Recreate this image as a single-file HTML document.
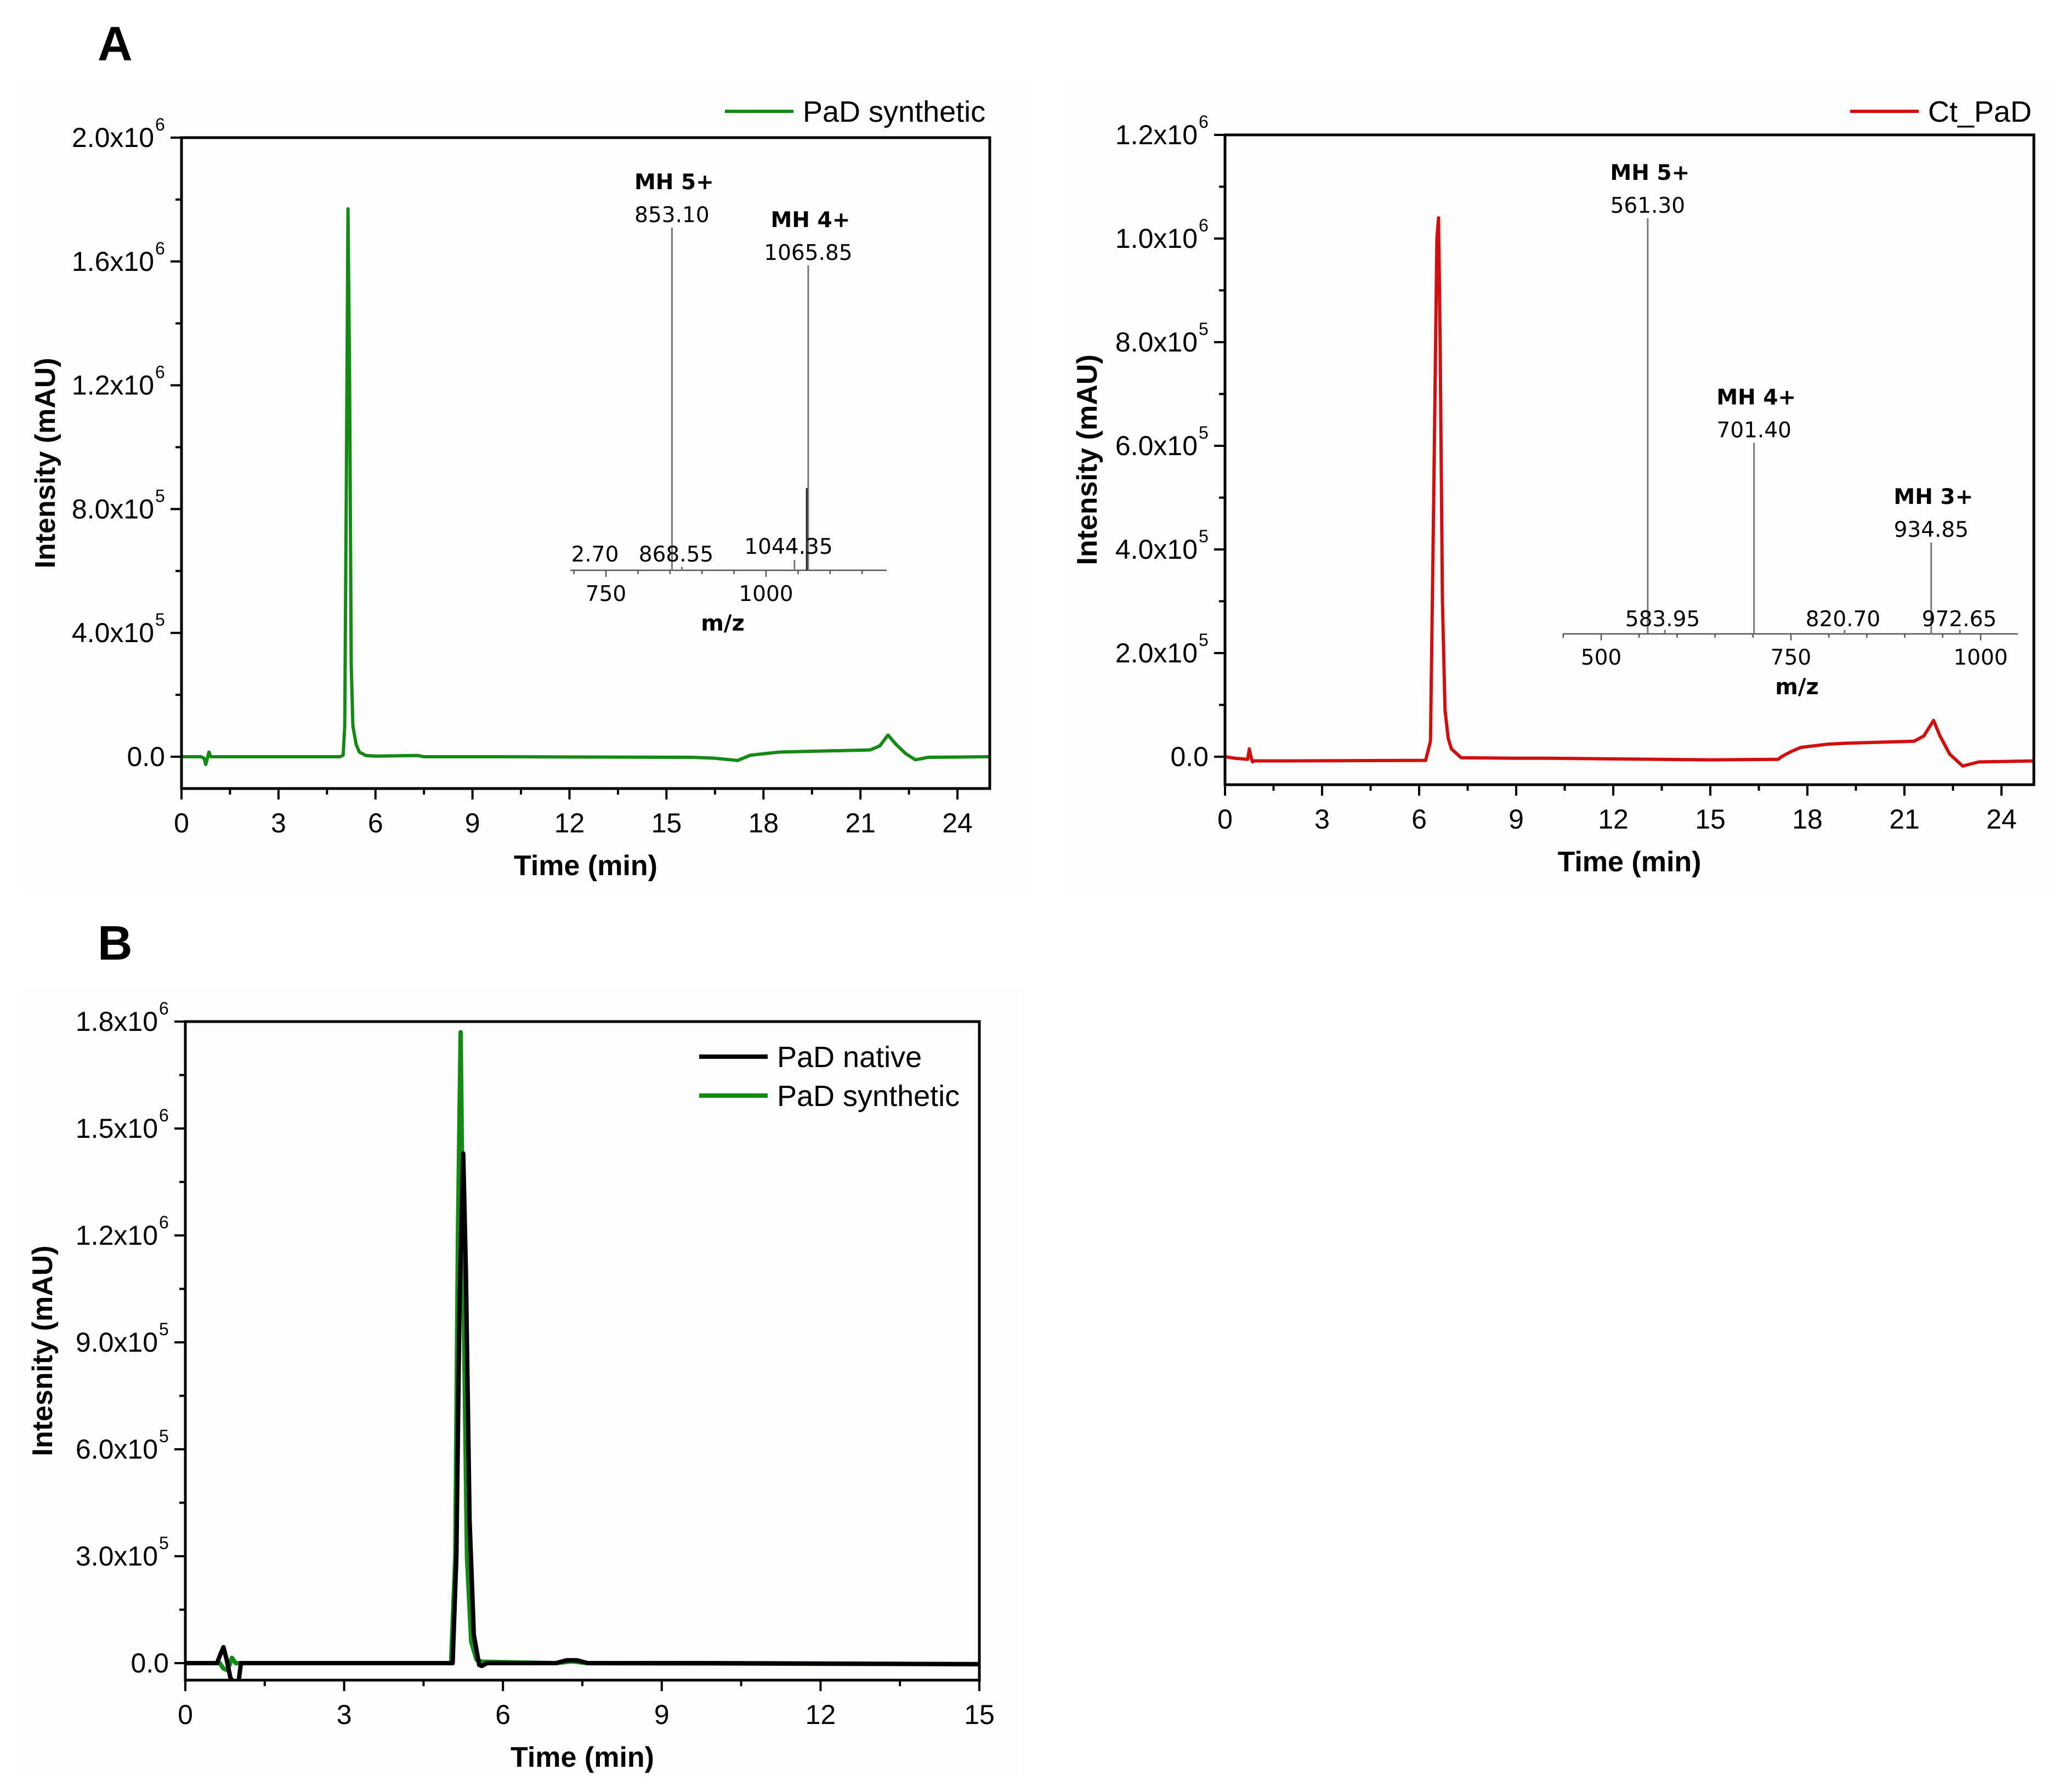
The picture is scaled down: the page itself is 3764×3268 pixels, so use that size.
<!DOCTYPE html>
<html><head><meta charset="utf-8"><style>
html,body{margin:0;padding:0;background:#fff;}
svg{display:block;}
</style></head><body>
<svg id="fig" xmlns="http://www.w3.org/2000/svg" width="3764" height="3268" viewBox="0 0 3764 3268" font-family="Liberation Sans, Arial, sans-serif">
<rect x="0" y="0" width="3764" height="3268" fill="#ffffff"/>
<rect x="40" y="150" width="1840" height="1480" fill="#fdfdfd"/>
<rect x="1950" y="150" width="1800" height="1480" fill="#fdfdfd"/>
<rect x="40" y="1800" width="1830" height="1440" fill="#fdfdfd"/>
<text x="178" y="110" font-size="88" font-weight="bold" fill="#000">A</text>
<text x="178" y="1750" font-size="88" font-weight="bold" fill="#000">B</text>
<g id="layer"></g>
</svg>
<script>
// ---- data: panel A left (PaD synthetic) ----
const synA_t = [0,0.6,0.7,0.75,0.8,0.85,0.9,1.0,4.9,5.0,5.05,5.1,5.15,5.2,5.25,5.3,5.4,5.5,5.7,6.0,7.3,7.4,7.5,9.8,15.8,16.5,17.2,17.6,18.5,21.3,21.6,21.85,22.1,22.4,22.7,23.1,25];
const synA_y = [0,0,-5e3,-2.5e4,-5e3,1.5e4,0,0,0,5e3,1e5,9e5,1.77e6,1.2e6,3e5,1e5,4e4,1.5e4,4e3,2e3,4e3,2e3,0,0,-2e3,-5e3,-1.2e4,5e3,1.5e4,2.2e4,3.5e4,7e4,4e4,1e4,-1e4,-2e3,0];
// ---- data: panel A right (Ct_PaD) ----
const ctA_t = [0,0.3,0.7,0.75,0.8,0.85,0.9,2,6.2,6.35,6.45,6.55,6.6,6.65,6.72,6.8,6.9,7.0,7.3,9,10,15,17.1,17.2,17.5,17.8,18.6,19.2,21.3,21.6,21.9,22.1,22.4,22.8,23.3,25];
const ctA_y = [0,-3e3,-5e3,1.5e4,0,-1e4,-8e3,-8e3,-7e3,3e4,5e5,1e6,1.04e6,8e5,3e5,9e4,3.5e4,1.5e4,-2e3,-3e3,-3e3,-6e3,-5e3,0,1e4,1.8e4,2.4e4,2.6e4,3e4,4e4,7e4,4e4,5e3,-1.8e4,-1e4,-8e3];
// ---- data: panel B ----
const natB_t = [0,0.6,0.65,0.72,0.78,0.85,0.92,1.0,1.05,1.1,2,5.05,5.12,5.18,5.25,5.3,5.37,5.45,5.55,5.6,5.7,7.0,7.2,7.4,7.6,10,15];
const natB_y = [0,0,2e4,4.5e4,1e4,-4e4,-6e4,-6e4,0,0,0,0,3e5,1e6,1.43e6,1.1e6,4e5,8e4,-5e3,-8e3,0,0,8e3,8e3,0,0,-3e3];
const synB_t = [0,0.65,0.72,0.8,0.88,0.95,1.05,2,5.02,5.1,5.15,5.2,5.25,5.32,5.4,5.5,5.6,7.0,7.3,7.6,15];
const synB_y = [0,0,-1.5e4,-2e4,1.5e4,0,0,0,0,3e5,1.2e6,1.77e6,1.1e6,3e5,6e4,1e4,4e3,0,5e3,0,-3e3];
// ---- inset mass spectra ----
const msA_mz = [853.10,1065.85,1063.5,1044.35,868.55];
const msA_int = [100,89,24,3,1];
const msA_labels = ["853.10","1065.85"];
const msA_ions = ["MH 5+","MH 4+"];
const msB_mz = [561.30,701.40,934.85,583.95,820.70,972.65];
const msB_int = [100,46,22,1,1,1];
const msB_labels = ["561.30","701.40","934.85"];
const msB_ions = ["MH 5+","MH 4+","MH 3+"];
// ---- ticks ----
const xTicksA = [0,3,6,9,12,15,18,21,24];
const xTicksB = [0,3,6,9,12,15];
const yTicksAL = [0,4e5,8e5,1.2e6,1.6e6,2.0e6];
const yLabAL = [["0.0",""],["4.0x10","5"],["8.0x10","5"],["1.2x10","6"],["1.6x10","6"],["2.0x10","6"]];
const yTicksAR = [0,2e5,4e5,6e5,8e5,1e6,1.2e6];
const yLabAR = [["0.0",""],["2.0x10","5"],["4.0x10","5"],["6.0x10","5"],["8.0x10","5"],["1.0x10","6"],["1.2x10","6"]];
const yTicksB = [0,3e5,6e5,9e5,1.2e6,1.5e6,1.8e6];
const yLabB = [["0.0",""],["3.0x10","5"],["6.0x10","5"],["9.0x10","5"],["1.2x10","6"],["1.5x10","6"],["1.8x10","6"]];

const NS="http://www.w3.org/2000/svg";
const layer=document.getElementById('layer');
function mk(tag,attrs,parent){const e=document.createElementNS(NS,tag);for(const k in attrs)e.setAttribute(k,attrs[k]);(parent||layer).appendChild(e);return e;}

function panel(o){
  const g=mk('g',{});
  
  
  const sx=v=>o.L+(v-o.x0)/(o.x1-o.x0)*(o.R-o.L);
  const sy=v=>o.Y0-(v/o.ymax)*(o.Y0-o.T);
  const cp='cp-'+o.name;
  const cl=mk('clipPath',{id:cp},g);mk('rect',{x:o.L,y:o.T,width:o.R-o.L,height:o.B-o.T},cl);
  o.series.forEach(s=>{
    const pts=s.t.map((t,i)=>sx(t).toFixed(1)+','+sy(s.y[i]).toFixed(1)).join(' ');
    const p=mk('polyline',{points:pts,fill:'none',stroke:s.color,'stroke-width':s.w,'stroke-linejoin':'round','clip-path':'url(#'+cp+')'},g);
    
    
  });
  const fr=mk('rect',{x:o.L,y:o.T,width:o.R-o.L,height:o.B-o.T,fill:'none',stroke:'#000','stroke-width':5},g);
  
  
  const xa=mk('g',{},g);
  
  
  const step=o.xt[1]-o.xt[0];
  for(let v=o.x0;v<=o.x1+1e-6;v+=step/2){
    const major=Math.abs((v/step)-Math.round(v/step))<1e-6;
    mk('line',{x1:sx(v),x2:sx(v),y1:o.B,y2:o.B+(major?20:11),stroke:'#000','stroke-width':4},xa);
  }
  o.xt.forEach(v=>{
    const t=mk('text',{x:sx(v),y:o.B+80,'font-size':50,'text-anchor':'middle',fill:'#000'},xa);
    t.textContent=v;
  });
  const ya=mk('g',{},g);
  
  
  const ys=o.yt[1]-o.yt[0];
  for(let v=0;v<=o.ymax+1;v+=ys/2){
    const major=Math.abs(v/ys-Math.round(v/ys))<1e-6;
    mk('line',{x1:o.L,x2:o.L-(major?20:11),y1:sy(v),y2:sy(v),stroke:'#000','stroke-width':4},ya);
  }
  o.yt.forEach((v,i)=>{
    const t=mk('text',{x:o.L-(o.yl[i][1]?50:30),y:sy(v)+17,'font-size':50,'text-anchor':'end',fill:'#000'},ya);
    t.textContent=o.yl[i][0];
    if(o.yl[i][1]){const s=mk('text',{x:o.L-48,y:sy(v)-13,'font-size':32,'text-anchor':'start',fill:'#000'},ya);s.textContent=o.yl[i][1];}
  });
  const xt=mk('text',{x:(o.L+o.R)/2,y:o.B+158,'font-size':52,'font-weight':'bold','text-anchor':'middle',fill:'#000'},g);
  
  
  xt.textContent='Time (min)';
  const yt=mk('text',{x:0,y:0,'font-size':52,'font-weight':'bold','text-anchor':'middle',fill:'#000',transform:'translate('+o.ytx+','+((o.T+o.B)/2-o.ytoff)+') rotate(-90)'},g);
  
  
  yt.textContent=o.ytitle;
  o.legend.forEach((lg,i)=>{
    const lgG=mk('g',{},g);
    
    
    mk('line',{x1:lg.x,x2:lg.x+125,y1:lg.y,y2:lg.y,stroke:lg.color,'stroke-width':lg.w},lgG);
    const t=mk('text',{x:lg.x+142,y:lg.y+19,'font-size':54,fill:'#000'},lgG);t.textContent=lg.text;
  });
  return {sx,sy,g};
}

function inset(o){
  const g=mk('g',{'font-family':'DejaVu Sans, Verdana, sans-serif'});
  
  
  const mx=v=>o.X750+(v-o.m0)/250*o.px250;
  const hy=v=>o.Y-v/100*o.h100;
  mk('line',{x1:o.xa,x2:o.xb,y1:o.Y,y2:o.Y,stroke:'#555','stroke-width':2.5},g);
  for(let m=Math.ceil(o.mmin/50)*50;m<=o.mmax;m+=50){
    mk('line',{x1:mx(m),x2:mx(m),y1:o.Y,y2:o.Y+(m%250===0?12:7),stroke:'#555','stroke-width':2.5},g);
  }
  o.ticks.forEach(m=>{const t=mk('text',{x:mx(m),y:o.Y+56,'font-size':39,'text-anchor':'middle',fill:'#000'},g);t.textContent=m;});
  o.mz.forEach((m,i)=>{
    const l=mk('line',{x1:mx(m),x2:mx(m),y1:o.Y,y2:hy(o.inten[i]),stroke:i===2&&o.dark?'#222':'#777','stroke-width':3},g);
    
    
  });
  o.labels.forEach((lab,i)=>{
    const x=mx(o.mz[i]);const y=hy(o.inten[i]);
    const a=mk('text',{x:x,y:y-10,'font-size':39,'text-anchor':'middle',fill:'#000'},g);a.textContent=lab;
    const b=mk('text',{x:x+4,y:y-70,'font-size':39,'font-weight':'bold','text-anchor':'middle',fill:'#000'},g);b.textContent=o.ions[i];
  });
  o.small.forEach(s=>{const t=mk('text',{x:s[1],y:o.Y-s[2],'font-size':39,'text-anchor':'middle',fill:'#000'},g);t.textContent=s[0];});
  const mzt=mk('text',{x:o.mzx,y:o.Y+110,'font-size':40,'font-weight':'bold','text-anchor':'middle',fill:'#000'},g);mzt.textContent='m/z';
}

panel({name:'chromatogram-pad-synthetic',L:331,R:1805,T:251,B:1438,Y0:1380,x0:0,x1:25,ymax:2.0e6,xt:xTicksA,yt:yTicksAL,yl:yLabAL,ytitle:'Intensity (mAU)',ytx:100,ytoff:0,
  series:[{name:'pad-synthetic-trace',t:synA_t,y:synA_y,color:'#138a13',w:6}],
  legend:[{x:1322,y:203,color:'#138a13',w:6,text:'PaD synthetic'}]});
panel({name:'chromatogram-ct-pad',L:2234,R:3709,T:246,B:1431,Y0:1380,x0:0,x1:25,ymax:1.2e6,xt:xTicksA,yt:yTicksAR,yl:yLabAR,ytitle:'Intensity (mAU)',ytx:2000,ytoff:0,
  series:[{name:'ct-pad-trace',t:ctA_t,y:ctA_y,color:'#d10f0f',w:6}],
  legend:[{x:3374,y:203,color:'#d10f0f',w:6,text:'Ct_PaD'}]});
panel({name:'chromatogram-comparison',L:338,R:1786,T:1863,B:3064,Y0:3033,x0:0,x1:15,ymax:1.8e6,xt:xTicksB,yt:yTicksB,yl:yLabB,ytitle:'Intesnity (mAU)',ytx:95,ytoff:0,
  series:[{name:'pad-synthetic-trace-b',t:synB_t,y:synB_y,color:'#138a13',w:8},{name:'pad-native-trace',t:natB_t,y:natB_y,color:'#000',w:8}],
  legend:[{x:1275,y:1927,color:'#000',w:8,text:'PaD native'},{x:1275,y:1998,color:'#138a13',w:8,text:'PaD synthetic'}]});

inset({name:'ms-inset-pad-synthetic',Y:1040,xa:1040,xb:1617,X750:1105,m0:750,px250:292,h100:625,mmin:700,mmax:1185,ticks:[750,1000],
  mz:msA_mz,inten:msA_int,labels:msA_labels,ions:msA_ions,dark:true,
  small:[['2.70',1085,16],['868.55',1233,16],['1044.35',1438,30]],mzx:1318});
inset({name:'ms-inset-ct-pad',Y:1156,xa:2850,xb:3680,X750:2920,m0:500,px250:346,h100:758,mmin:450,mmax:1045,ticks:[500,750,1000],
  mz:msB_mz,inten:msB_int,labels:msB_labels,ions:msB_ions,dark:false,
  small:[['583.95',3032,14],['820.70',3361,14],['972.65',3573,14]],mzx:3277});
</script>
</body></html>
